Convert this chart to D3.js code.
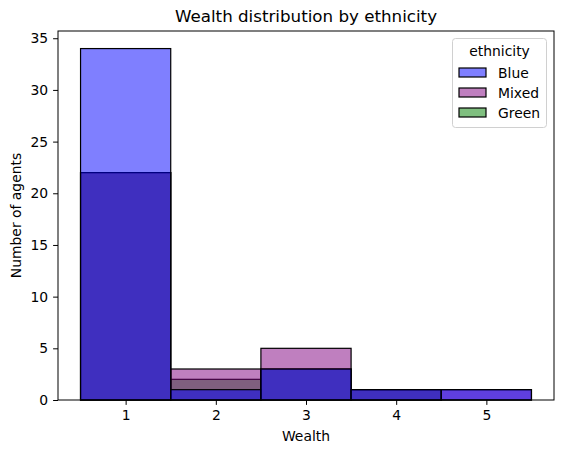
<!DOCTYPE html>
<html>
<head>
<meta charset="utf-8">
<script src="https://cdn.jsdelivr.net/npm/d3@7"></script>
<style>
  body { margin: 0; background: #fff; }
  text { font-family: "DejaVu Sans", sans-serif; fill: #000; }
</style>
</head>
<body>
<div id="canvas"></div>
<script>
// data
var wealth = [1, 2, 3, 4, 5];
var groups = ['Blue', 'Mixed', 'Green'];
var blueCounts = [34, 1, 3, 1, 1];
var mixedCounts = [22, 3, 5, 1, 1];
var greenCounts = [22, 2, 3, 1, 0];
var yTicks = [0, 5, 10, 15, 20, 25, 30, 35];
var colors = {Blue: 'blue', Mixed: 'purple', Green: 'green'};

var W = 563, H = 454;
var m = {t: 31, r: 9, b: 54, l: 58};
var w = W - m.l - m.r,
    h = H - m.t - m.b;
var fs = '13.9px';

var svg = d3.select('#canvas').append('svg')
    .attr('width', W).attr('height', H);
var plot = svg.append('g')
    .attr('transform', 'translate(' + m.l + ',' + m.t + ')');

var scaleX = d3.scaleLinear().domain([0.25, 5.75]).range([0, w]);
var maxY = d3.max(blueCounts.concat(mixedCounts, greenCounts)) * 1.05;
var scaleY = d3.scaleLinear().domain([0, maxY]).range([h, 0]);

var series = {Blue: blueCounts, Mixed: mixedCounts, Green: greenCounts};

// seaborn draws the last hue first
groups.slice().reverse().forEach(function(g){
    series[g].forEach(function(c, i){
        if (!c) return;
        plot.append('rect')
            .attr('x', scaleX(wealth[i] - 0.5))
            .attr('y', scaleY(c))
            .attr('width', scaleX(wealth[i] + 0.5) - scaleX(wealth[i] - 0.5))
            .attr('height', h - scaleY(c))
            .attr('fill', colors[g])
            .attr('fill-opacity', 0.5)
            .attr('stroke', '#000')
            .attr('stroke-width', 1.2);
    });
});

// axes
var axisX = d3.axisBottom(scaleX).tickValues(wealth).tickFormat(d3.format('d'))
    .tickSize(4.9).tickPadding(4.9);
var axisY = d3.axisLeft(scaleY).tickValues(yTicks).tickFormat(d3.format('d'))
    .tickSize(4.9).tickPadding(4.9);
var gx = plot.append('g').attr('transform', 'translate(0,' + h + ')').call(axisX);
var gy = plot.append('g').call(axisY);
[gx, gy].forEach(function(g){
    g.select('.domain').remove();
    g.attr('font-family', null).attr('font-size', null);
    g.selectAll('text').style('font-size', fs);
    g.selectAll('line').attr('stroke', '#000');
});

plot.append('rect')
    .attr('width', w).attr('height', h)
    .attr('fill', 'none').attr('stroke', '#000').attr('stroke-width', 1);

// labels
svg.append('text').attr('x', m.l + w / 2).attr('y', 22)
    .attr('text-anchor', 'middle').style('font-size', '16.7px')
    .text('Wealth distribution by ethnicity');
svg.append('text').attr('x', m.l + w / 2).attr('y', 441)
    .attr('text-anchor', 'middle').style('font-size', fs)
    .text('Wealth');
svg.append('text')
    .attr('transform', 'translate(21,' + (m.t + h / 2) + ') rotate(-90)')
    .attr('text-anchor', 'middle').style('font-size', fs)
    .text('Number of agents');

// legend
var leg = svg.append('g').attr('transform', 'translate(452.5,38.5)');
leg.append('rect').attr('width', 94).attr('height', 89).attr('rx', 3)
    .attr('fill', '#fff').attr('fill-opacity', 0.8)
    .attr('stroke', '#d0d0d0').attr('stroke-width', 1);
leg.append('text').attr('x', 47).attr('y', 17).attr('text-anchor', 'middle')
    .style('font-size', fs).text('ethnicity');
groups.forEach(function(g, i){
    var y = 29.5 + i * 20;
    leg.append('rect').attr('x', 6.5).attr('y', y).attr('width', 27).attr('height', 9)
        .attr('fill', colors[g]).attr('fill-opacity', 0.5)
        .attr('stroke', '#000').attr('stroke-width', 1.2);
    leg.append('text').attr('x', 45.5).attr('y', y + 9.5)
        .style('font-size', fs).text(g);
});
</script>
</body>
</html>
